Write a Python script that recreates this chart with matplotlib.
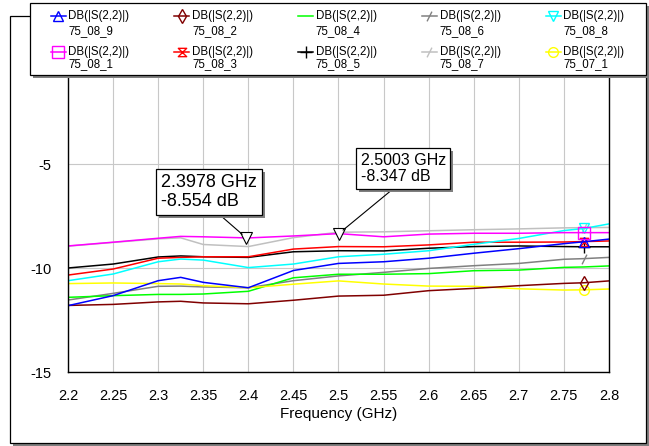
import numpy as np
import matplotlib.pyplot as plt
from matplotlib.patches import Rectangle
from matplotlib.path import Path
import matplotlib.patheffects as pe

plt.rcParams['font.family'] = ['Liberation Sans', 'DejaVu Sans']
plt.rcParams['axes.unicode_minus'] = False

# frequency points (GHz); 2.772 is where the trace markers sit
freq = [2.2, 2.25, 2.3, 2.325, 2.35, 2.4, 2.45, 2.5, 2.55, 2.6, 2.65, 2.7, 2.75, 2.772, 2.8]

s22_75_08_9 = [-11.81, -11.33, -10.61, -10.45, -10.69, -10.95, -10.12, -9.78, -9.70, -9.53, -9.29, -9.07, -8.83, -8.74, -8.61]
s22_75_08_2 = [-11.80, -11.75, -11.63, -11.60, -11.68, -11.72, -11.55, -11.35, -11.31, -11.09, -10.98, -10.85, -10.74, -10.71, -10.62]
s22_75_08_4 = [-11.41, -11.33, -11.27, -11.27, -11.25, -11.12, -10.47, -10.30, -10.30, -10.27, -10.13, -10.10, -9.97, -9.95, -9.90]
s22_75_08_6 = [-11.54, -11.22, -10.88, -10.87, -10.91, -10.95, -10.61, -10.38, -10.21, -10.02, -9.89, -9.78, -9.58, -9.55, -9.49]
s22_75_08_8 = [-10.61, -10.29, -9.70, -9.57, -9.62, -9.98, -9.81, -9.46, -9.34, -9.17, -8.86, -8.58, -8.20, -8.10, -7.88]
s22_75_08_1 = [-8.94, -8.76, -8.57, -8.48, -8.50, -8.554, -8.46, -8.347, -8.50, -8.37, -8.33, -8.33, -8.30, -8.30, -8.30]
s22_75_08_3 = [-10.34, -10.05, -9.53, -9.49, -9.46, -9.46, -9.09, -8.97, -8.98, -8.89, -8.76, -8.76, -8.75, -8.73, -8.70]
s22_75_08_5 = [-10.00, -9.81, -9.47, -9.42, -9.46, -9.49, -9.22, -9.17, -9.18, -9.05, -8.97, -8.94, -8.97, -8.98, -8.98]
s22_75_08_7 = [-8.95, -8.77, -8.60, -8.55, -8.87, -8.97, -8.54, -8.28, -8.26, -8.21, -8.16, -8.12, -8.07, -8.06, -8.05]
s22_75_07_1 = [-10.75, -10.72, -10.75, -10.77, -10.85, -10.95, -10.78, -10.62, -10.77, -10.87, -10.88, -11.00, -11.06, -11.05, -11.01]

names = ['75_08_9', '75_08_2', '75_08_4', '75_08_6', '75_08_8',
         '75_08_1', '75_08_3', '75_08_5', '75_08_7', '75_07_1']
traces = [s22_75_08_9, s22_75_08_2, s22_75_08_4, s22_75_08_6, s22_75_08_8,
          s22_75_08_1, s22_75_08_3, s22_75_08_5, s22_75_08_7, s22_75_07_1]

# delta markers
mk_freq = [2.3978, 2.5003]
mk_val = [-8.554, -8.347]

xticks = [2.2, 2.25, 2.3, 2.35, 2.4, 2.45, 2.5, 2.55, 2.6, 2.65, 2.7, 2.75, 2.8]
xticklabels = ['2.2', '2.25', '2.3', '2.35', '2.4', '2.45', '2.5', '2.55', '2.6', '2.65', '2.7', '2.75', '2.8']
yticks = [-15, -10, -5]

slash = Path([(-0.5, -1), (0.5, 1)], [Path.MOVETO, Path.LINETO])
hourglass = Path([(-1, 1), (1, 1), (-1, -1), (1, -1), (-1, 1)],
                 [Path.MOVETO, Path.LINETO, Path.LINETO, Path.LINETO, Path.CLOSEPOLY])

colors = ['#0000ff', '#800000', '#00ff00', '#808080', '#00ffff',
          '#ff00ff', '#ff0000', '#000000', '#c0c0c0', '#ffff00']
markers = ['^', 'd', None, slash, 'v', 's', hourglass, '+', slash, 'o']
msizes = [7, 7, 0, 7, 7, 8, 6, 9, 7, 7]
draw_order = [8, 3, 2, 9, 1, 7, 6, 4, 0, 5]

W, H = 649, 446
fig = plt.figure(figsize=(W / 100, H / 100), dpi=100)
fig.patch.set_facecolor('white')

# background: outer frame with shadow
bg = fig.add_axes([0, 0, 1, 1], zorder=0)
bg.set_xlim(0, W)
bg.set_ylim(H, 0)
bg.axis('off')
bg.add_patch(Rectangle((13, 19), 636, 427, fc='#7f7f7f', ec='none'))
bg.add_patch(Rectangle((10, 16), 636, 427, fc='white', ec='black', lw=0.9))

# main plot area
ax = fig.add_axes([68 / W, (H - 372) / H, (609 - 68) / W, (372 - 60) / H], zorder=1)
idx_mk = freq.index(2.772)
for i in draw_order:
    kw = dict(color=colors[i], lw=1.1)
    if markers[i] is not None:
        kw.update(marker=markers[i], markevery=[idx_mk], ms=msizes[i],
                  mfc='none', mec=colors[i], mew=1.0)
    ax.plot(freq, traces[i], **kw)

ax.plot(mk_freq, mk_val, 'v', ms=8, mfc='white', mec='black', mew=0.8, zorder=5)

ax.set_xlim(2.2, 2.8)
ax.set_ylim(-15, 0)
ax.set_xticks(xticks)
ax.set_xticklabels(xticklabels)
ax.set_yticks(yticks)
ax.tick_params(length=0, labelsize=10.5)
ax.tick_params(axis='x', pad=12)
ax.tick_params(axis='y', pad=12)
ax.grid(True, color='#c8c8c8', lw=0.8)
ax.set_axisbelow(True)
for sp in ax.spines.values():
    sp.set_linewidth(1.0)
ax.set_xlabel('Frequency (GHz)', fontsize=11, labelpad=3)

shadow = [pe.SimplePatchShadow(offset=(2.2, -2.2), shadow_rgbFace='#7f7f7f', alpha=1.0), pe.Normal()]
a1 = ax.annotate('2.3978 GHz\n-8.554 dB', xy=(mk_freq[0], mk_val[0]), xytext=(2.3033, -5.5),
                 ha='left', va='top', fontsize=13, linespacing=1.1,
                 bbox=dict(boxstyle='square,pad=0.3', fc='white', ec='black', lw=0.9),
                 arrowprops=dict(arrowstyle='-', color='black', lw=0.8, relpos=(0.55, 0),
                                 shrinkA=0, shrinkB=4), zorder=6)
a2 = ax.annotate('2.5003 GHz\n-8.347 dB', xy=(mk_freq[1], mk_val[1]), xytext=(2.5244, -4.47),
                 ha='left', va='top', fontsize=11.5, linespacing=1.1,
                 bbox=dict(boxstyle='square,pad=0.3', fc='white', ec='black', lw=0.9),
                 arrowprops=dict(arrowstyle='-', color='black', lw=0.8, relpos=(0.45, 0),
                                 shrinkA=0, shrinkB=4), zorder=6)
for a in (a1, a2):
    a.get_bbox_patch().set_path_effects(shadow)

# legend box on top
fg = fig.add_axes([0, 0, 1, 1], zorder=5)
fg.set_xlim(0, W)
fg.set_ylim(H, 0)
fg.axis('off')
fg.patch.set_visible(False)
fg.add_patch(Rectangle((33, 6), 616, 72, fc='#7f7f7f', ec='none'))
fg.add_patch(Rectangle((30, 3), 616, 72, fc='white', ec='black', lw=0.9))

row_y = [15.7, 52.3]
row_gap = [15.0, 11.5]
for i, name in enumerate(names):
    col, row = i % 5, i // 5
    hx = 50.5 + col * 123.8
    y = row_y[row]
    kw = dict(color=colors[i], lw=1.1)
    if markers[i] is not None:
        kw.update(marker=markers[i], markevery=[1], ms=msizes[i], mfc='none',
                  mec=colors[i], mew=1.0)
    fg.plot([hx, hx + 7.5, hx + 15], [y, y, y], **kw)
    fg.text(hx + 17.8, y, 'DB(|S(2,2)|)', fontsize=8.3, ha='left', va='center')
    fg.text(hx + 17.8, y + row_gap[row], name, fontsize=8.3, ha='left', va='center')

fig.savefig('out.png', dpi=100)
